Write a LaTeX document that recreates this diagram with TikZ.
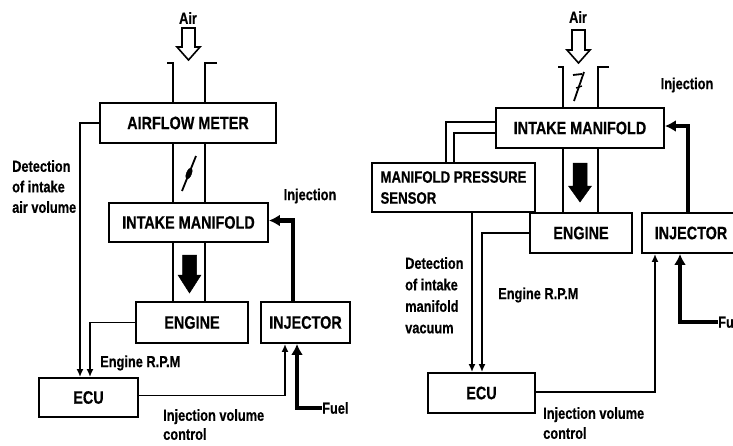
\documentclass[tikz,border=0pt]{standalone}
\usepackage{fontspec}
\setmainfont[FakeStretch=0.8,BoldFeatures={FakeBold=0.5}]{Liberation Sans}
\usetikzlibrary{arrows.meta}
\begin{document}
\begin{tikzpicture}[x=1pt,y=-1pt,
  box/.style={draw,line width=1.9pt,inner sep=0pt,font=\bfseries\fontsize{18}{20}\selectfont},
  lbl/.style={inner sep=0pt,font=\bfseries\fontsize{16}{20}\selectfont,align=left},
  conn/.style={line width=1.6pt,-{Latex[length=8pt,width=7pt]}},
  fuelconn/.style={line width=4.5pt,-{Latex[length=11pt,width=12pt]}},
  wall/.style={line width=1.9pt},
  hollow/.style={line width=1.6pt,fill=white},
  solidarrow/.style={fill=black,draw=black,line width=0.5pt},
]
\useasboundingbox (0,0) rectangle (733,445);
\clip (0,0) rectangle (733,445);

% ---------------- LEFT DIAGRAM ----------------
\node[box,minimum width=176pt,minimum height=40pt] (af) at (188,123) {AIRFLOW METER};
\node[box,minimum width=159pt,minimum height=39pt] (im1) at (188.5,222.5) {INTAKE MANIFOLD};
\node[box,minimum width=112pt,minimum height=41pt] (eng1) at (192,322.5) {ENGINE};
\node[box,minimum width=89pt,minimum height=41pt] (inj1) at (305.5,322.5) {INJECTOR};
\node[box,minimum width=99pt,minimum height=39pt] (ecu1) at (88.5,397.5) {ECU};

\node[lbl] (air1) at (188,18) {Air};
\node[lbl] (injl1) at (310,196) {Injection};
\node[lbl,anchor=west] (fuel1) at (322,408) {Fuel};
\node[lbl,anchor=west] (rpm1) at (100,363) {Engine R.P.M};
\node[lbl,anchor=north west,font=\bfseries\fontsize{16}{20.5}\selectfont] (det1) at (12,160) {Detection\\of intake\\air volume};
\node[lbl,anchor=north west,font=\bfseries\fontsize{16}{19}\selectfont] (ivc1) at (163,409) {Injection volume\\control};

% air arrow and duct
\draw[hollow] (182,28) -- (195,28) -- (195,47) -- (200,47) -- (188.5,60) -- (177,47) -- (182,47) -- cycle;
\draw[wall] (167,63) -- (173,63) -- (173,103);
\draw[wall] (217,63) -- (205,63) -- (205,103);
\draw[wall] (173,143) -- (173,203);
\draw[wall] (205,143) -- (205,203);
\draw[line width=1.8pt] (182,191) -- (196,156);
\draw[fill=black] (189,173.5) ellipse [x radius=2.5pt,y radius=6pt,rotate=-22];
\draw[wall] (173,242) -- (173,302);
\draw[wall] (205,242) -- (205,302);
\draw[solidarrow] (182.5,255) -- (196.5,255) -- (196.5,275) -- (201,275) -- (189.5,293) -- (178,275) -- (182.5,275) -- cycle;

% connectors
\draw[conn] (af.west) -| ([xshift=-8.5pt]ecu1.north);
\draw[conn] (eng1.west) -| ([xshift=1.5pt]ecu1.north);
\draw[conn] ([yshift=2pt]ecu1.east) -| ([xshift=-20.5pt]inj1.south);
\draw[fuelconn] (fuel1.west) -| ([xshift=-8.5pt]inj1.south);
\draw[fuelconn] ([xshift=-12.5pt]inj1.north) |- ([yshift=2pt]im1.east);

% ---------------- RIGHT DIAGRAM ----------------
\node[box,minimum width=168pt,minimum height=40pt] (im2) at (580,128) {INTAKE MANIFOLD};
\node[box,minimum width=163pt,minimum height=49pt,align=left,font=\bfseries\fontsize{16.5}{21}\selectfont] (mps) at (453.5,187.5) {MANIFOLD PRESSURE\\SENSOR};
\node[box,minimum width=102pt,minimum height=40pt] (eng2) at (581,233) {ENGINE};
\node[box,minimum width=98pt,minimum height=40pt] (inj2) at (691,233) {INJECTOR};
\node[box,minimum width=107pt,minimum height=40pt] (ecu2) at (481.5,393) {ECU};

\node[lbl] (air2) at (578,17) {Air};
\node[lbl] (injl2) at (687,85) {Injection};
\node[lbl,anchor=west] (fuel2) at (718,322) {Fuel};
\node[lbl,anchor=west] (rpm2) at (498,295) {Engine R.P.M};
\node[lbl,anchor=north west,font=\bfseries\fontsize{16}{21.5}\selectfont] (det2) at (405,257) {Detection\\of intake\\manifold\\vacuum};
\node[lbl,anchor=north west] (ivc2) at (543,407) {Injection volume\\control};

% air arrow and duct
\draw[hollow] (572,30) -- (585,30) -- (585,50) -- (590,50) -- (578.5,63) -- (567,50) -- (572,50) -- cycle;
\draw[wall] (558,67) -- (563,67) -- (563,108);
\draw[wall] (609,67) -- (598,67) -- (598,108);
\draw[line width=1.8pt] (574,101) -- (584,72);
\draw[line width=1.8pt] (573,75) -- (582,74);
\draw[line width=1.4pt] (576,88) -- (582,86);
\draw[wall] (563,148) -- (563,213);
\draw[wall] (598,148) -- (598,213);
\draw[solidarrow] (573,163) -- (587,163) -- (587,186) -- (591.5,186) -- (580,202) -- (568.5,186) -- (573,186) -- cycle;

% manifold to sensor pipe
\draw[conn,-] ([yshift=6pt]im2.west) -| ([xshift=-7.5pt]mps.north);
\draw[conn,-] ([yshift=-5pt]im2.west) -| ([xshift=0.5pt]mps.north);

% connectors
\coordinate (e2a) at ([xshift=-9.5pt]ecu2.north);
\draw[conn] (e2a |- mps.south) -- (e2a);
\draw[conn] (eng2.west) -| ([xshift=0.5pt]ecu2.north);
\draw[conn] ([yshift=1pt]ecu2.east) -| ([xshift=-36pt]inj2.south);
\draw[fuelconn] (fuel2.west) -| ([xshift=-11pt]inj2.south);
\draw[fuelconn] ([xshift=-3pt]inj2.north) |- ([yshift=2pt]im2.east);
\end{tikzpicture}
\end{document}
